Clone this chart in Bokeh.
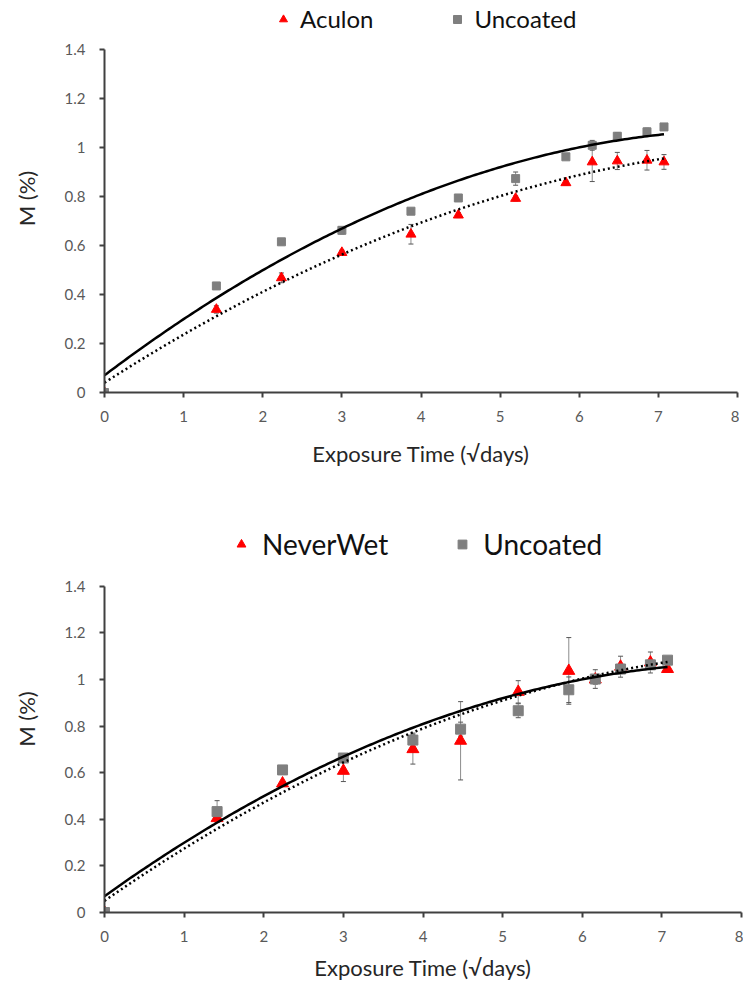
import numpy as np
from bokeh.plotting import figure
from bokeh.layouts import column
from bokeh.models import Legend, LegendItem, Whisker, TeeHead, ColumnDataSource, FixedTicker
from bokeh.embed import file_html
from bokeh.resources import INLINE

# ---------------- data ----------------
x_days = [0, 1.414, 2.236, 3.0, 3.873, 4.472, 5.196, 5.831, 6.164, 6.481, 6.856, 7.071]

uncoated_top = [0, 0.435, 0.615, 0.662, 0.740, 0.794, 0.873, 0.962, 1.009, 1.046, 1.064, 1.084]
uncoated_top_err = [0, 0.012, 0.012, 0.015, 0.008, 0.012, 0.027, 0.008, 0.02, 0.015, 0.015, 0.012]
aculon = [0, 0.339, 0.468, 0.571, 0.646, 0.724, 0.792, 0.856, 0.941, 0.945, 0.948, 0.941]
aculon_err = [0, 0.015, 0.02, 0.01, 0.04, 0.01, 0.01, 0.01, 0.08, 0.035, 0.04, 0.03]

uncoated_bot = [0, 0.433, 0.612, 0.663, 0.740, 0.787, 0.866, 0.956, 1.002, 1.045, 1.063, 1.083]
uncoated_bot_err = [0, 0.047, 0.01, 0.01, 0.03, 0.03, 0.03, 0.055, 0.04, 0.02, 0.02, 0.01]
neverwet = [0, 0.405, 0.554, 0.608, 0.701, 0.737, 0.947, 1.037, 1.000, 1.055, 1.073, 1.045]
neverwet_err = [0, 0.01, 0.01, 0.046, 0.064, 0.168, 0.048, 0.143, 0.02, 0.045, 0.045, 0.01]

# polynomial trendline coefficients (c0 + c1*x + c2*x^2)
uncoated_fit = [0.07, 0.2443, -0.01487]
aculon_fit = [0.04, 0.2075, -0.01104]
neverwet_fit = [0.05, 0.2371, -0.01302]

x_ticks = [0, 1, 2, 3, 4, 5, 6, 7, 8]
y_ticks = [0, 0.2, 0.4, 0.6, 0.8, 1.0, 1.2, 1.4]
y_tick_labels = ["0", "0.2", "0.4", "0.6", "0.8", "1", "1.2", "1.4"]
x_title = "Exposure Time (\u221adays)"
y_title = "M (%)"

FONT = "Lato"
RED = "#ff0000"
GRAY = "#7f7f7f"
AXIS = "#404040"


def make_chart(coated, coated_err, unc, unc_err, coated_fit, coated_name,
               frame_w, frame_h, y_hi, top_border, bottom_border, xtitle_standoff,
               legend_size, msize, leg_loc, leg_glyph, leg_standoff, leg_spacing):
    p = figure(frame_width=frame_w, frame_height=frame_h, x_range=(0, 8.0), y_range=(0, y_hi),
               output_backend="svg", toolbar_location=None,
               min_border_left=104, min_border_right=2,
               min_border_top=top_border, min_border_bottom=bottom_border)
    p.outline_line_color = None
    p.grid.visible = False
    for ax in (p.xaxis[0], p.yaxis[0]):
        ax.axis_line_color = AXIS
        ax.axis_line_width = 2
        ax.major_tick_line_color = AXIS
        ax.major_tick_line_width = 2
        ax.major_tick_in = 0
        ax.major_tick_out = 5
        ax.minor_tick_line_color = None
        ax.major_label_text_font = FONT
        ax.major_label_text_font_size = "15px"
        ax.major_label_text_color = "#595959"
        ax.axis_label_text_font = FONT
        ax.axis_label_text_font_style = "normal"
        ax.axis_label_text_font_size = "22px"
        ax.axis_label_text_color = "#262626"
    p.xaxis.bounds = (0, 8)
    p.yaxis.bounds = (0, 1.4)
    p.xaxis.ticker = FixedTicker(ticks=x_ticks)
    p.yaxis.ticker = FixedTicker(ticks=y_ticks)
    p.yaxis.major_label_overrides = {t: l for t, l in zip(y_ticks, y_tick_labels)}
    p.xaxis.axis_label = x_title
    p.yaxis.axis_label = y_title
    p.xaxis.major_label_standoff = 13
    p.yaxis.major_label_standoff = 14
    p.xaxis.axis_label_standoff = xtitle_standoff
    p.yaxis.axis_label_standoff = 22

    src_c = ColumnDataSource(dict(x=x_days, y=coated,
                                  lo=[v - e for v, e in zip(coated, coated_err)],
                                  hi=[v + e for v, e in zip(coated, coated_err)]))
    src_u = ColumnDataSource(dict(x=x_days, y=unc,
                                  lo=[v - e for v, e in zip(unc, unc_err)],
                                  hi=[v + e for v, e in zip(unc, unc_err)]))

    for s in (src_c, src_u):
        w = Whisker(source=s, base="x", lower="lo", upper="hi", line_color="#8c8c8c", line_width=1,
                    upper_head=TeeHead(size=5, line_color="#555555", line_width=1),
                    lower_head=TeeHead(size=5, line_color="#555555", line_width=1))
        p.add_layout(w)

    r_c = p.scatter("x", "y", source=src_c, marker="triangle", size=msize + 1,
                    fill_color=RED, line_color=RED)
    r_u = p.scatter("x", "y", source=src_u, marker="square", size=msize - 1,
                    fill_color=GRAY, line_color=GRAY)

    xs = np.linspace(0, x_days[-1], 200)
    yu = uncoated_fit[0] + uncoated_fit[1] * xs + uncoated_fit[2] * xs ** 2
    yc = coated_fit[0] + coated_fit[1] * xs + coated_fit[2] * xs ** 2
    p.line(xs, yc, line_color="black", line_width=2.5, line_dash="2 3")
    p.line(xs, yu, line_color="black", line_width=2.5)

    leg = Legend(items=[LegendItem(label=coated_name, renderers=[r_c]),
                        LegendItem(label="Uncoated", renderers=[r_u])],
                 orientation="horizontal", location=leg_loc,
                 label_text_font=FONT, label_text_font_size=legend_size,
                 label_text_color="#111111", border_line_color=None,
                 background_fill_color=None, background_fill_alpha=0,
                 padding=0, margin=0,
                 spacing=leg_spacing, glyph_width=leg_glyph, glyph_height=leg_glyph,
                 label_standoff=leg_standoff)
    p.add_layout(leg)
    return p


# top chart: 245 px per unit, 0 at page y 392
p1 = make_chart(aculon, aculon_err, uncoated_top, uncoated_top_err, aculon_fit, "Aculon",
                frame_w=633, frame_h=388, y_hi=1.5837,
                top_border=4, bottom_border=80, xtitle_standoff=15,
                legend_size="24px", msize=9,
                leg_loc=(169, 359), leg_glyph=20, leg_standoff=7, leg_spacing=74)
# bottom chart: 233 px per unit, 0 at page y 912
p2 = make_chart(neverwet, neverwet_err, uncoated_bot, uncoated_bot_err, neverwet_fit, "NeverWet",
                frame_w=637, frame_h=387, y_hi=1.661,
                top_border=53, bottom_border=73, xtitle_standoff=9,
                legend_size="28px", msize=11,
                leg_loc=(126, 351), leg_glyph=22, leg_standoff=10, leg_spacing=63)

layout = column(p1, p2, spacing=0)
open("out.html", "w").write(file_html(layout, INLINE))
